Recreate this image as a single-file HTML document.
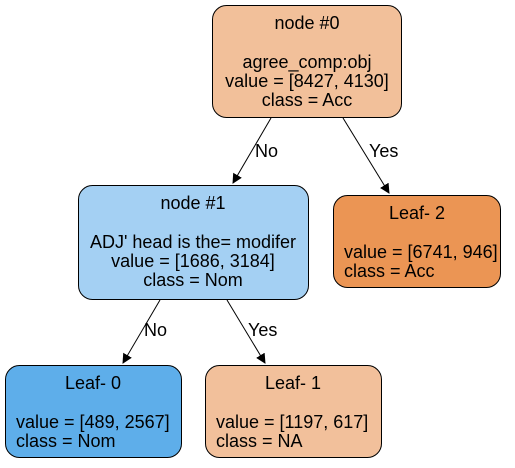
<!DOCTYPE html>
<html><head><meta charset="utf-8"><style>
html,body{margin:0;padding:0;background:#fff;}
svg text{font-family:"Liberation Sans",Arial,sans-serif;font-size:18px;fill:#000;}
</style></head><body>
<svg width="515" height="463" viewBox="0 0 515 463" xmlns="http://www.w3.org/2000/svg">
<defs><marker id="a" markerWidth="10" markerHeight="10" refX="9" refY="5" orient="auto" markerUnits="userSpaceOnUse"><path d="M0,0 L10,5 L0,10 z" fill="#000"/></marker></defs>
<rect x="212.5" y="5.5" width="189" height="112" rx="14" fill="#f2c09a" stroke="#000"/>
<text x="307" y="29" text-anchor="middle">node #0</text>
<text x="307" y="68" text-anchor="middle">agree_comp:obj</text>
<text x="307" y="87" text-anchor="middle">value = [8427, 4130]</text>
<text x="307" y="106" text-anchor="middle">class = Acc</text>

<rect x="78.5" y="185.5" width="230" height="114" rx="14" fill="#a4d0f3" stroke="#000"/>
<text x="193" y="209" text-anchor="middle">node #1</text>
<text x="193" y="248" text-anchor="middle">ADJ' head is the= modifer</text>
<text x="193" y="267" text-anchor="middle">value = [1686, 3184]</text>
<text x="193" y="286" text-anchor="middle">class = Nom</text>

<rect x="333.5" y="195.5" width="167" height="92" rx="14" fill="#eb9554" stroke="#000"/>
<text x="417" y="219" text-anchor="middle">Leaf- 2</text>
<text x="344" y="258">value = [6741, 946]</text>
<text x="344" y="277">class = Acc</text>

<rect x="5.5" y="365.5" width="176" height="92" rx="14" fill="#5eaeea" stroke="#000"/>
<text x="93" y="389" text-anchor="middle">Leaf- 0</text>
<text x="16" y="428">value = [489, 2567]</text>
<text x="16" y="447">class = Nom</text>

<rect x="205.5" y="365.5" width="176" height="92" rx="14" fill="#f2c09b" stroke="#000"/>
<text x="293" y="389" text-anchor="middle">Leaf- 1</text>
<text x="216" y="428">value = [1197, 617]</text>
<text x="216" y="447">class = NA</text>

<line x1="271" y1="118" x2="233" y2="183" stroke="#000" marker-end="url(#a)"/>
<text x="255" y="157">No</text>
<line x1="343" y1="118" x2="389" y2="193" stroke="#000" marker-end="url(#a)"/>
<text x="369" y="157">Yes</text>
<line x1="160" y1="300" x2="123" y2="363" stroke="#000" marker-end="url(#a)"/>
<text x="144" y="336">No</text>
<line x1="227" y1="300" x2="265" y2="363" stroke="#000" marker-end="url(#a)"/>
<text x="248" y="336">Yes</text>
</svg>
</body></html>
